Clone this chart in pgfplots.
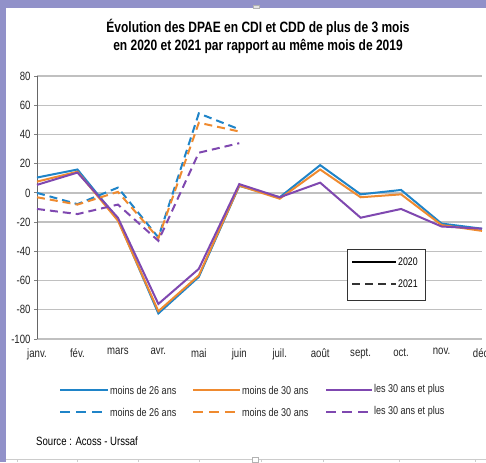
\documentclass[border=0pt]{standalone}
\usepackage{fontspec}
\setmainfont{Liberation Sans}[FakeStretch=0.8]
\usepackage{pgfplots}
\pgfplotsset{compat=1.18}
\definecolor{cblue}{HTML}{1F84C8}
\definecolor{corange}{HTML}{EF8A2F}
\definecolor{cpurple}{HTML}{7F48B0}
\definecolor{lav}{HTML}{9191C9}
\definecolor{gridc}{HTML}{C0C0C0}
\pgfplotstableread{
x b o p
0 10.5 7.7 5.5
1 16 14.5 13.9
2 -18 -19 -17
3 -82.5 -81 -76
4 -57.5 -56.5 -52
5 4.8 5 6
6 -3 -4 -3
7 19 16 7
8 -1 -3 -17
9 2 -1 -11
10 -21 -22 -23
11 -24.5 -26 -24.5
}\dataA
\pgfplotstableread{
x b o p
0 0 -3 -11
1 -7.7 -8 -14.5
2 3.6 0.7 -8
3 -30.5 -31 -32.8
4 54.4 48 27.5
5 43.5 42 34
}\dataB
\begin{document}
\begin{tikzpicture}[x=1pt,y=1pt]
\fill[white] (0,0) rectangle (486,462);
\fill[lav] (0,454) rectangle (486,462);
\fill[lav] (0,0) rectangle (6,462);
\begin{axis}[
  at={(37pt,123pt)}, anchor=south west,
  scale only axis, width=445pt, height=263pt,
  xmin=0, xmax=11, ymin=-100, ymax=80,
  ytick={-100,-80,...,80},
  xtick={0,...,11},
  xticklabels={janv.,fév.,mars,avr.,mai,juin,juil.,août,sept.,oct.,nov.,déc.},
  axis lines*=left,
  axis line style={line width=0.8pt, color=gray!80!black},
  x axis line style={draw=none},
  ymajorgrids,
  grid style={line width=1.4pt, color=gridc},
  major tick length=3pt,
  xtick style={draw=none},
  ytick style={line width=0.8pt, color=gray},
  tick align=outside,
  /pgf/number format/assume math mode=true,
  ticklabel style={font=\fontsize{12}{13}\selectfont, color=black!85},
  xticklabel style={yshift=-3pt},
  clip=false,
]
\addplot[cblue, line width=2pt] table[x=x,y=b] {\dataA};
\addplot[corange, line width=2pt] table[x=x,y=o] {\dataA};
\addplot[cpurple, line width=2pt] table[x=x,y=p] {\dataA};
\addplot[cblue, line width=2pt, dash pattern=on 8pt off 5pt] table[x=x,y=b] {\dataB};
\addplot[corange, line width=2pt, dash pattern=on 8pt off 5pt] table[x=x,y=o] {\dataB};
\addplot[cpurple, line width=2pt, dash pattern=on 8pt off 5pt] table[x=x,y=p] {\dataB};
\end{axis}
% in-plot legend
\draw[fill=white, draw=black!80, line width=0.7pt] (347,162) rectangle (425,213);
\draw[black, line width=2pt] (352,200) -- (396,200);
\node[anchor=west, font=\fontsize{11}{12}\selectfont, inner sep=1pt] at (397,200) {2020};
\draw[black!80, line width=2pt, dash pattern=on 8pt off 5pt] (352,178) -- (396,178);
\node[anchor=west, font=\fontsize{11}{12}\selectfont, inner sep=1pt] at (397,178) {2021};
% bottom legend
\begin{scope}[every node/.style={anchor=west, font=\fontsize{11.3}{12}\selectfont, inner sep=1pt}]
\draw[cblue, line width=2pt] (60,72) -- (108,72) node[black!85] {moins de 26 ans};
\draw[corange, line width=2pt] (193,72) -- (240,72) node[black!85] {moins de 30 ans};
\draw[cpurple, line width=2pt] (326,72) -- (372,72) node[black!85] {les 30 ans et plus};
\draw[cblue, line width=2pt, dash pattern=on 10pt off 6pt] (60,50) -- (108,50) node[black!85] {moins de 26 ans};
\draw[corange, line width=2pt, dash pattern=on 10pt off 6pt] (193,50) -- (240,50) node[black!85] {moins de 30 ans};
\draw[cpurple, line width=2pt, dash pattern=on 10pt off 6pt] (326,50) -- (372,50) node[black!85] {les 30 ans et plus};
\end{scope}
\node[anchor=west, font=\fontsize{12}{13}\selectfont, inner sep=0pt] at (36,21) {Source : Acoss - Urssaf};
% title
\node[align=center, font=\bfseries\fontsize{15}{18}\selectfont] at (258,426) {Évolution des DPAE en CDI et CDD de plus de 3 mois\\en 2020 et 2021 par rapport au même mois de 2019};
% sheet grid at bottom
\draw[gray!40, line width=0.6pt] (6,3) -- (486,3);
\foreach \xx in {17,77,138,199,261,323,399,475} \draw[gray!40, line width=0.6pt] (\xx,0) -- (\xx,3);
\draw[gray!60, fill=white] (252,0) rectangle (258,5);
\draw[gray!60, fill=gray!20] (253,454) rectangle (259,457);
\pgfresetboundingbox
\path[use as bounding box] (0,0) rectangle (486,462);
\end{tikzpicture}
\end{document}
